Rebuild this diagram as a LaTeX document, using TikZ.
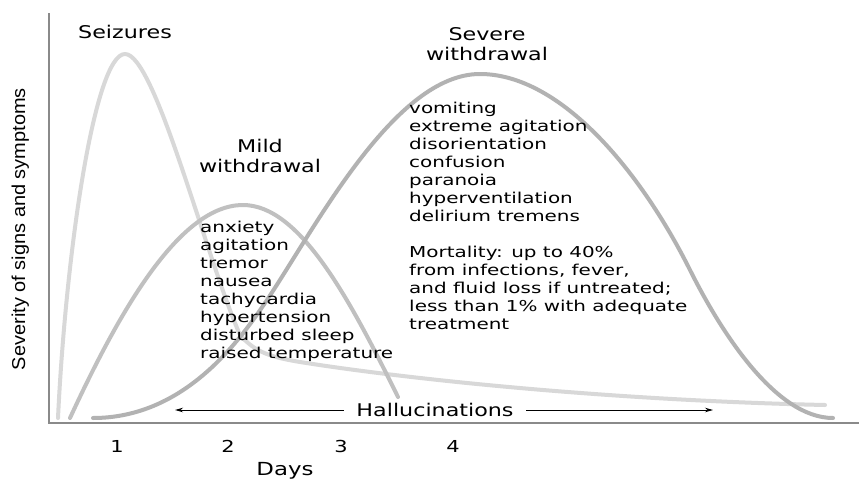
\documentclass[tikz,border=0pt]{standalone}
\usepackage{fontspec}
\setmainfont{DejaVu Sans}[FakeStretch=1.27]
\newfontfamily\listfont{DejaVu Sans}[FakeStretch=1.33]
\newfontfamily\ylabfont{Liberation Sans}
\usepackage{graphicx}
\usetikzlibrary{arrows.meta}
\definecolor{seizgray}{HTML}{D8D8D8}
\definecolor{mildgray}{HTML}{C0C0C0}
\definecolor{sevgray}{HTML}{B2B2B2}
\definecolor{axisgray}{HTML}{8A8A8A}
\begin{document}
\begin{tikzpicture}[x=1pt,y=-1pt,
  curve/.style={line width=4pt, line cap=round, line join=round},
  axisline/.style={draw=axisgray, line width=1.6pt},
  title/.style={inner sep=0pt, anchor=base, font=\fontsize{17.5}{20.5}\selectfont},
  listtext/.style={inner sep=0pt, anchor=base west, font=\listfont\fontsize{15}{18}\selectfont},
  ticklab/.style={inner sep=0pt, anchor=base, font=\fontsize{16.5}{19}\selectfont},
  hallarrow/.style={draw=black, line width=1pt, -{Stealth[length=8pt,width=4.5pt]}}
]
\useasboundingbox[fill=white] (0,0) rectangle (859,479);

% axes
\coordinate (ytop) at (49,13);
\coordinate (orig) at (49,423);
\coordinate (xend) at (859,423);
\draw[axisline] (ytop) -- (orig) -- (xend);

% curves
\draw[curve, seizgray] (58,418) .. controls (66,250) and (95,54) .. (125,54)
  .. controls (155,54) and (205,255) .. (240,335)
  .. controls (255,352) and (270,357) .. (300,362)
  .. controls (400,378) and (600,400) .. (825,405);
\draw[curve, mildgray] (70,418) .. controls (120,310) and (180,205) .. (243,205)
  .. controls (300,205) and (350,300) .. (398,397);
\draw[curve, sevgray] (93,418) .. controls (185,418) and (240,340) .. (267,300)
  .. controls (317,225) and (395,74) .. (480,74)
  .. controls (560,74) and (640,170) .. (690,270)
  .. controls (720,330) and (775,418) .. (833,418);

% titles
\node[title] (seiz) at (125,38) {Seizures};
\node[title] (mild) at (260,152) {\begin{tabular}[t]{@{}c@{}}Mild\\withdrawal\end{tabular}};
\node[title] (sev) at (487,40) {\begin{tabular}[t]{@{}c@{}}Severe\\withdrawal\end{tabular}};

% symptom lists
\node[listtext] (mildlist) at (200,232) {\begin{tabular}[t]{@{}l@{}}anxiety\\agitation\\tremor\\nausea\\tachycardia\\hypertension\\disturbed sleep\\raised temperature\end{tabular}};
\node[listtext] (sevlist) at (409,113) {\begin{tabular}[t]{@{}l@{}}vomiting\\extreme agitation\\disorientation\\confusion\\paranoia\\hyperventilation\\delirium tremens\\[18pt]Mortality: up to 40\%\\from infections, fever,\\and fluid loss if untreated;\\less than 1\% with adequate\\treatment\end{tabular}};

% hallucinations
\node[title, outer xsep=12.5pt] (hall) at (435,416.5) {Hallucinations};
\coordinate (la) at (175,410);
\coordinate (ra) at (713,410);
\draw[hallarrow] (hall.west |- la) -- (la);
\draw[hallarrow] (hall.east |- ra) -- (ra);

% ticks and axis labels
\node[ticklab] (d1) at (117,452) {1};
\node[ticklab] (d2) at (228,452) {2};
\node[ticklab] (d3) at (341,452) {3};
\node[ticklab] (d4) at (453,452) {4};
\node[ticklab, font=\fontsize{18}{20}\selectfont] (days) at (285,475) {Days};
\node[rotate=90, anchor=base, inner sep=0pt] (ylab) at (25,229) {\resizebox{282pt}{13.5pt}{\ylabfont Severity of signs and symptoms}};
\end{tikzpicture}
\end{document}
